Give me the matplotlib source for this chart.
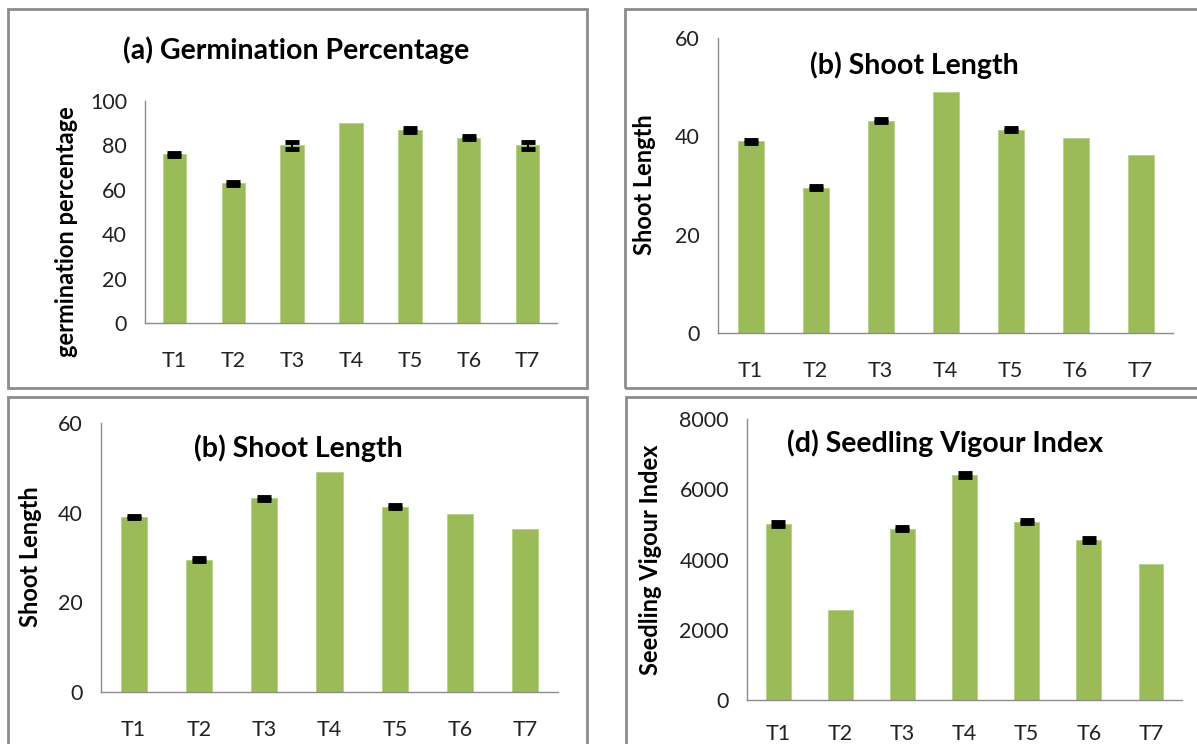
import matplotlib
matplotlib.use("Agg")
import matplotlib.pyplot as plt
from matplotlib.patches import Rectangle

plt.rcParams['font.family'] = ['Lato', 'DejaVu Sans']

categories = ["T1", "T2", "T3", "T4", "T5", "T6", "T7"]

germination = [76, 63, 80, 90, 87, 83.5, 80]
germination_err = [0.8, 0.7, 1.4, 0, 0.8, 0.8, 1.4]

shoot_length = [39, 29.5, 43.2, 49, 41.3, 39.7, 36.3]
shoot_length_err = [0.3, 0.3, 0.3, 0, 0.3, 0, 0]

vigour = [5000, 2570, 4880, 6400, 5080, 4560, 3860]
vigour_err = [60, 0, 50, 60, 50, 50, 0]

W, H = 1197, 744
fig = plt.figure(figsize=(W / 100, H / 100), dpi=100)
fig.patch.set_facecolor("white")

GREEN = "#9BBB59"


def px_axes(left, right, top, bottom):
    return fig.add_axes([left / W, 1 - bottom / H, (right - left) / W, (bottom - top) / H])


def draw_panel(ax, vals, errs, ymax, step, title, ylabel, title_xy, ylabel_xy, xpad=20):
    x = range(len(categories))
    ax.bar(x, vals, width=0.4, color=GREEN, edgecolor="#B5CF86", linewidth=0.6, zorder=2)
    ex = [i for i, e in zip(x, errs) if e > 0]
    ev = [v for v, e in zip(vals, errs) if e > 0]
    ee = [e for e in errs if e > 0]
    ax.errorbar(ex, ev, yerr=ee, fmt="none", ecolor="black", elinewidth=1.5,
                capsize=5, capthick=3.5, zorder=3)
    ax.set_xlim(-0.5, 6.5)
    ax.set_ylim(0, ymax)
    ax.set_yticks(list(range(0, ymax + 1, step)))
    ax.set_xticks(list(x))
    ax.set_xticklabels(categories)
    ax.tick_params(length=0, labelsize=15.5, colors="#222222")
    ax.tick_params(axis="x", pad=xpad)
    ax.tick_params(axis="y", pad=13)
    for s in ["top", "right"]:
        ax.spines[s].set_visible(False)
    for s in ["left", "bottom"]:
        ax.spines[s].set_color("#8C8C8C")
        ax.spines[s].set_linewidth(1.0)
    ax.set_facecolor("none")
    fig.text(title_xy[0] / W, 1 - title_xy[1] / H, title, ha="center", va="center",
             fontsize=20.5, fontweight="bold", color="black")
    fig.text(ylabel_xy[0] / W, 1 - ylabel_xy[1] / H, ylabel, ha="center", va="center",
             rotation=90, fontsize=17, fontweight="bold", color="black")


# frames
for (l, t, r, b) in [(8, 9, 587, 388), (625, 9, 1205, 388), (8, 397, 587, 760), (626, 397, 1205, 760)]:
    fig.patches.append(Rectangle((l / W, 1 - b / H), (r - l) / W, (b - t) / H,
                                 transform=fig.transFigure, fill=False,
                                 edgecolor="#8C8C8C", linewidth=2, zorder=0))

ax1 = px_axes(145, 557, 101, 323)
draw_panel(ax1, germination, germination_err, 100, 20, "(a) Germination Percentage",
           "germination percentage", (296, 50), (66, 232))

ax2 = px_axes(718, 1173, 38, 333)
draw_panel(ax2, shoot_length, shoot_length_err, 60, 20, "(b) Shoot Length",
           "Shoot Length", (914, 65), (645, 185))

ax3 = px_axes(101, 558, 423, 692)
draw_panel(ax3, shoot_length, shoot_length_err, 60, 20, "(b) Shoot Length",
           "Shoot Length", (298, 448), (30, 557))

ax4 = px_axes(747, 1182, 419, 700)
draw_panel(ax4, vigour, vigour_err, 8000, 2000, "(d) Seedling Vigour Index",
           "Seedling Vigour Index", (945, 443), (651, 560), xpad=17)

fig.savefig("out.png", dpi=100)
